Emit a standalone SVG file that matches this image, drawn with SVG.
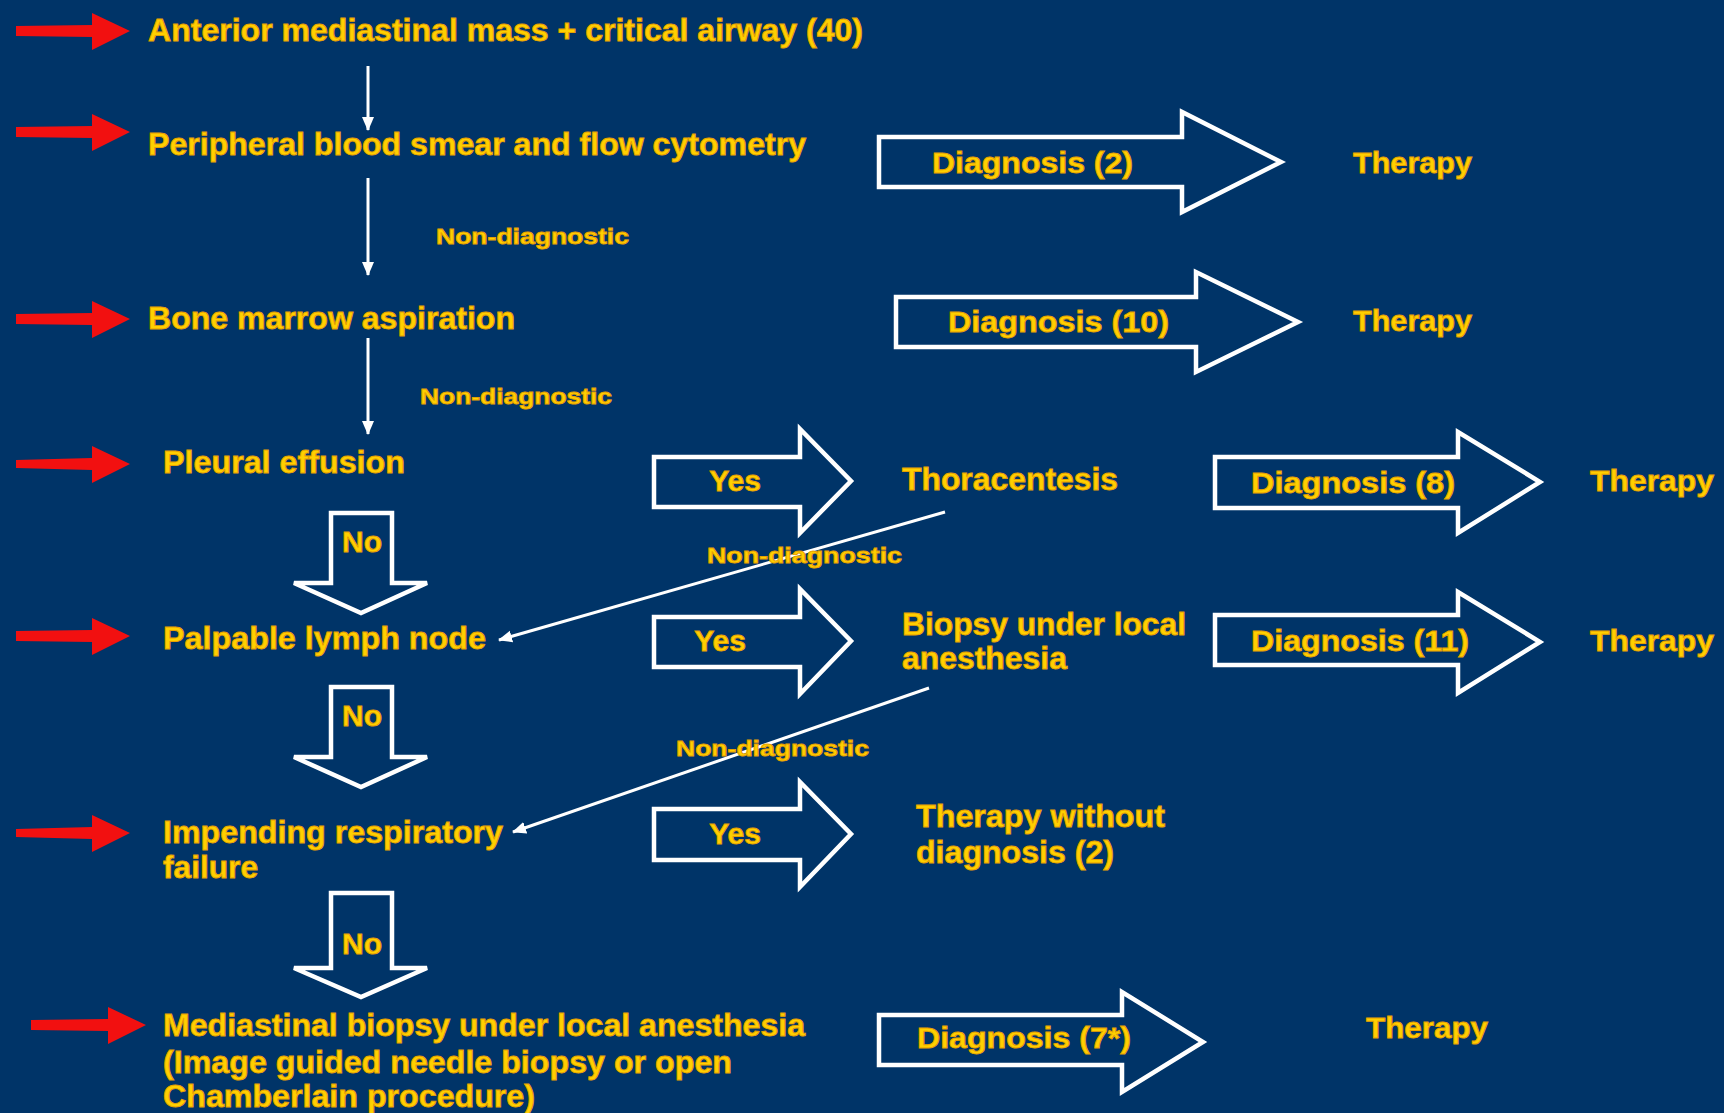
<svg xmlns="http://www.w3.org/2000/svg" width="1724" height="1113" viewBox="0 0 1724 1113">
<style>
.t{font-family:"Liberation Sans",Arial,sans-serif;font-weight:bold;fill:#FFD000;stroke:#E8A000;stroke-width:0.9;font-size:31px}
.s{font-size:22px}
.d{font-size:30px}
.blk{fill:none;stroke:#FFFFFF;stroke-width:4.5;stroke-linejoin:miter}
.red{fill:#F21010}
.thin{stroke:#FFFFFF;stroke-width:3;fill:none}
</style>
<defs>
<marker id="ah" markerUnits="userSpaceOnUse" markerWidth="14" markerHeight="14" viewBox="0 0 14 14" refX="13" refY="7" orient="auto">
<path d="M0,1 L14,7 L0,13 Z" fill="#FFFFFF"/>
</marker>
</defs>
<rect x="0" y="0" width="1724" height="1113" fill="#003468"/>

<g id="red-arrows">
<polygon class="red" points="16,26 92,25 92,13 130,31 92,50 92,37 16,36"/>
<polygon class="red" points="16,127 92,126 92,114 130,132 92,151 92,138 16,137"/>
<polygon class="red" points="16,314 92,313 92,301 130,319 92,338 92,325 16,324"/>
<polygon class="red" points="16,460 92,458 92,446 130,464 92,483 92,470 16,468"/>
<polygon class="red" points="16,631 92,630 92,618 130,636 92,655 92,642 16,641"/>
<polygon class="red" points="16,829 92,827 92,815 130,833 92,852 92,839 16,837"/>
<polygon class="red" points="31,1020 108,1019 108,1007 146,1025 108,1044 108,1031 31,1030"/>
</g>

<g id="connectors">
<line class="thin" x1="368" y1="66" x2="368" y2="130" marker-end="url(#ah)"/>
<line class="thin" x1="368" y1="178" x2="368" y2="275" marker-end="url(#ah)"/>
<line class="thin" x1="368" y1="338" x2="368" y2="434" marker-end="url(#ah)"/>
<line class="thin" x1="945" y1="512" x2="499" y2="640" marker-end="url(#ah)"/>
<line class="thin" x1="929" y1="688" x2="513" y2="832" marker-end="url(#ah)"/>
</g>

<g id="n-anterior"><text class="t" x="148" y="41" textLength="715" lengthAdjust="spacingAndGlyphs">Anterior mediastinal mass + critical airway (40)</text></g>
<g id="n-peripheral"><text class="t" x="148" y="155" textLength="658" lengthAdjust="spacingAndGlyphs">Peripheral blood smear and flow cytometry</text></g>
<g id="l-nondiag1"><text class="t s" x="436" y="244" textLength="193" lengthAdjust="spacingAndGlyphs">Non-diagnostic</text></g>
<g id="n-bone"><text class="t" x="148" y="329" textLength="367" lengthAdjust="spacingAndGlyphs">Bone marrow aspiration</text></g>
<g id="l-nondiag2"><text class="t s" x="420" y="404" textLength="192" lengthAdjust="spacingAndGlyphs">Non-diagnostic</text></g>
<g id="n-pleural"><text class="t" x="163" y="473" textLength="242" lengthAdjust="spacingAndGlyphs">Pleural effusion</text></g>
<g id="n-palpable"><text class="t" x="163" y="649" textLength="323" lengthAdjust="spacingAndGlyphs">Palpable lymph node</text></g>
<g id="n-impending">
<text class="t" x="163" y="843" textLength="340" lengthAdjust="spacingAndGlyphs">Impending respiratory</text>
<text class="t" x="163" y="878" textLength="95" lengthAdjust="spacingAndGlyphs">failure</text>
</g>
<g id="n-mediastinal">
<text class="t" x="163" y="1036" textLength="642" lengthAdjust="spacingAndGlyphs">Mediastinal biopsy under local anesthesia</text>
<text class="t" x="163" y="1073" textLength="569" lengthAdjust="spacingAndGlyphs">(Image guided needle biopsy or open</text>
<text class="t" x="163" y="1107" textLength="372" lengthAdjust="spacingAndGlyphs">Chamberlain procedure)</text>
</g>

<g id="no-arrows">
<g id="no1"><polygon class="blk" points="331,513 392,513 392,583 427,583 361,613 294,583 331,583"/><text class="t d" x="362" y="552" text-anchor="middle">No</text></g>
<g id="no2"><polygon class="blk" points="331,687 392,687 392,757 427,757 361,787 294,757 331,757"/><text class="t d" x="362" y="726" text-anchor="middle">No</text></g>
<g id="no3"><polygon class="blk" points="331,893 392,893 392,968 427,968 361,997 294,968 331,968"/><text class="t d" x="362" y="954" text-anchor="middle">No</text></g>
</g>

<g id="yes-arrows">
<g id="yes1"><polygon class="blk" points="654,457 800,457 800,429 851,481 800,533 800,507 654,507"/><text class="t d" x="735" y="491" text-anchor="middle">Yes</text></g>
<g id="yes2"><polygon class="blk" points="654,617 800,617 800,589 851,641 800,694 800,667 654,667"/><text class="t d" x="720" y="651" text-anchor="middle">Yes</text></g>
<g id="yes3"><polygon class="blk" points="654,809 800,809 800,782 851,834 800,887 800,860 654,860"/><text class="t d" x="735" y="844" text-anchor="middle">Yes</text></g>
</g>

<g id="n-thoracentesis"><text class="t" x="902" y="490" textLength="216" lengthAdjust="spacingAndGlyphs">Thoracentesis</text></g>
<g id="l-nondiag3"><text class="t s" x="707" y="563" textLength="195" lengthAdjust="spacingAndGlyphs">Non-diagnostic</text></g>
<g id="n-biopsy">
<text class="t" x="902" y="635" textLength="284" lengthAdjust="spacingAndGlyphs">Biopsy under local</text>
<text class="t" x="902" y="669" textLength="165" lengthAdjust="spacingAndGlyphs">anesthesia</text>
</g>
<g id="l-nondiag4"><text class="t s" x="676" y="756" textLength="193" lengthAdjust="spacingAndGlyphs">Non-diagnostic</text></g>
<g id="n-therapy-without">
<text class="t" x="916" y="827" textLength="249" lengthAdjust="spacingAndGlyphs">Therapy without</text>
<text class="t" x="916" y="863" textLength="198" lengthAdjust="spacingAndGlyphs">diagnosis (2)</text>
</g>

<g id="diag2"><polygon class="blk" points="879,137 1182,137 1182,112 1281,162 1182,212 1182,187 879,187"/><text class="t d" x="932" y="173" textLength="201" lengthAdjust="spacingAndGlyphs">Diagnosis (2)</text></g>
<g id="therapy1"><text class="t d" x="1353" y="173" textLength="119" lengthAdjust="spacingAndGlyphs">Therapy</text></g>

<g id="diag10"><polygon class="blk" points="896,297 1196,297 1196,272 1298,322 1196,372 1196,347 896,347"/><text class="t d" x="948" y="332" textLength="221" lengthAdjust="spacingAndGlyphs">Diagnosis (10)</text></g>
<g id="therapy2"><text class="t d" x="1353" y="331" textLength="119" lengthAdjust="spacingAndGlyphs">Therapy</text></g>

<g id="diag8"><polygon class="blk" points="1215,457 1458,457 1458,432 1540,482 1458,533 1458,508 1215,508"/><text class="t d" x="1251" y="493" textLength="204" lengthAdjust="spacingAndGlyphs">Diagnosis (8)</text></g>
<g id="therapy3"><text class="t d" x="1590" y="491" textLength="124" lengthAdjust="spacingAndGlyphs">Therapy</text></g>

<g id="diag11"><polygon class="blk" points="1215,615 1458,615 1458,592 1540,642 1458,693 1458,665 1215,665"/><text class="t d" x="1251" y="651" textLength="218" lengthAdjust="spacingAndGlyphs">Diagnosis (11)</text></g>
<g id="therapy4"><text class="t d" x="1590" y="651" textLength="124" lengthAdjust="spacingAndGlyphs">Therapy</text></g>

<g id="diag7"><polygon class="blk" points="879,1015 1122,1015 1122,992 1203,1042 1122,1092 1122,1065 879,1065"/><text class="t d" x="917" y="1048" textLength="214" lengthAdjust="spacingAndGlyphs">Diagnosis (7*)</text></g>
<g id="therapy5"><text class="t d" x="1366" y="1038" textLength="122" lengthAdjust="spacingAndGlyphs">Therapy</text></g>
</svg>
